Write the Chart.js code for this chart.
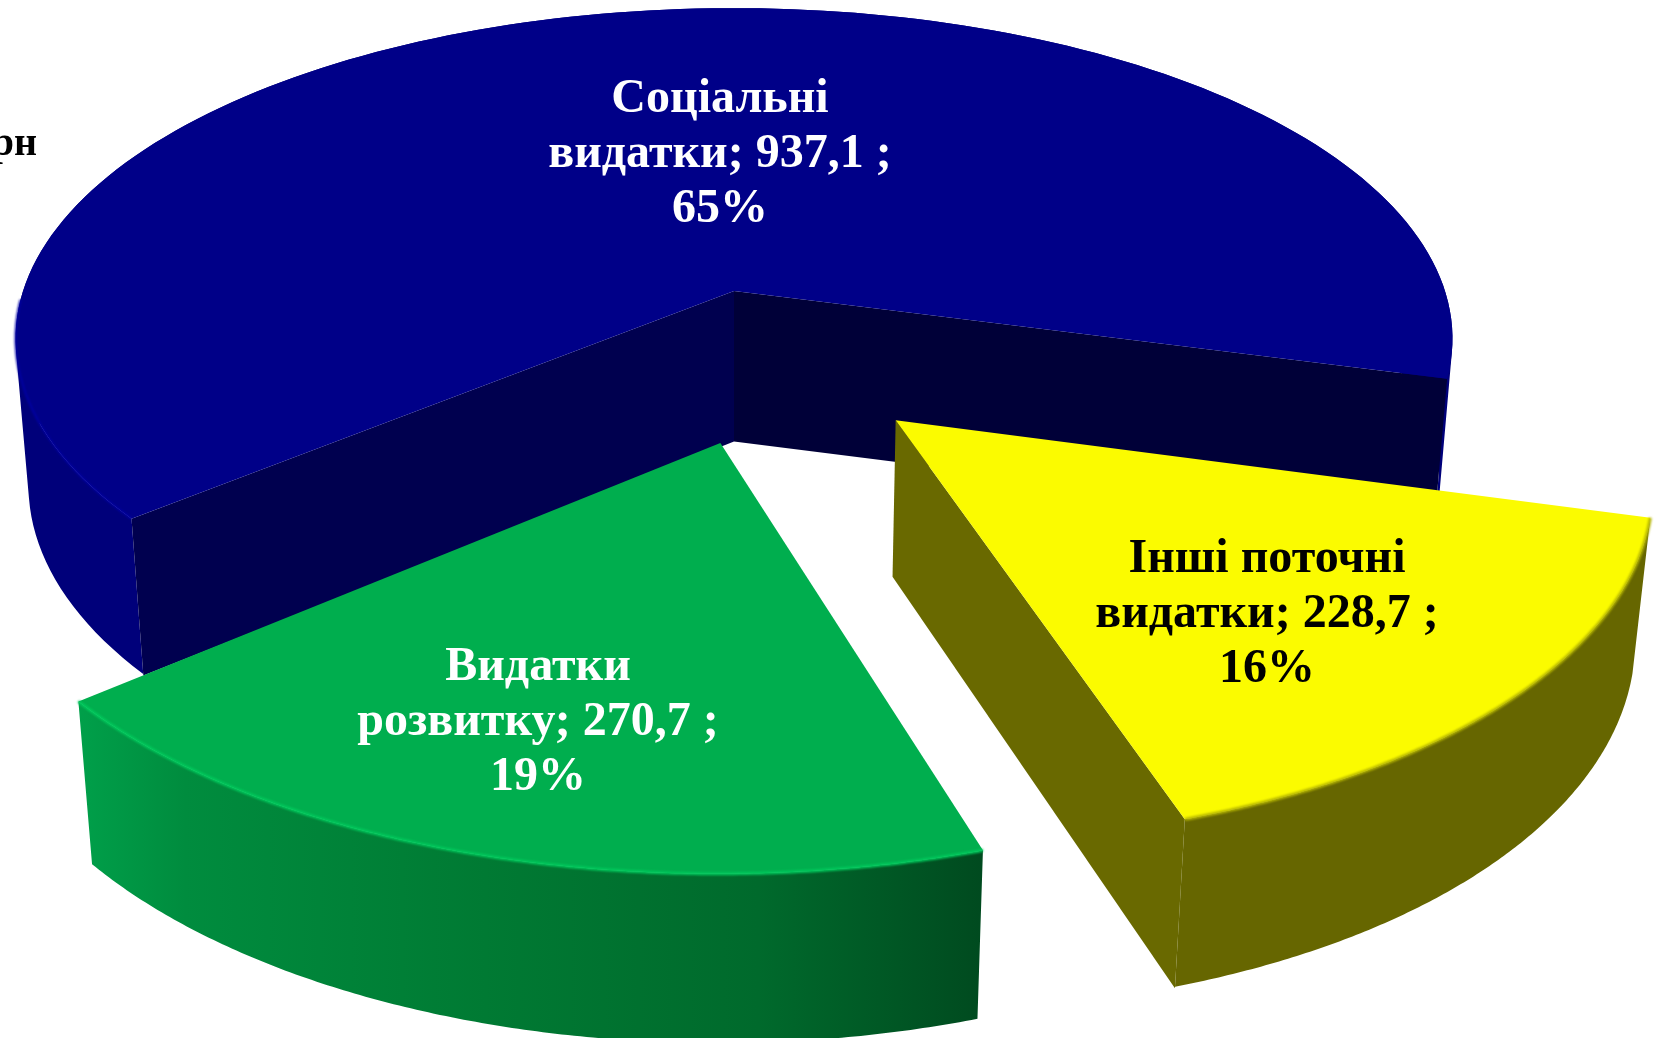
<!DOCTYPE html>
<html>
<head>
<meta charset="utf-8">
<script src="https://cdn.jsdelivr.net/npm/chart.js@4"></script>
<style>
html, body { margin: 0; padding: 0; background: #fff; overflow: hidden; }
canvas { display: block; }
</style>
</head>
<body>
<canvas id="pie3d" width="1661" height="1038"></canvas>
<script>
// Chart data (clockwise from the front-left edge of the big slice)
const categories = ['Соціальні видатки', 'Інші поточні видатки', 'Видатки розвитку'];
const amounts = [937.1, 228.7, 270.7];
const percents = ['65%', '16%', '19%'];
const labelLines = [
    ['Соціальні', 'видатки; 937,1 ;', '65%'],
    ['Інші поточні', 'видатки; 228,7 ;', '16%'],
    ['Видатки', 'розвитку; 270,7 ;', '19%']
];
const unitText = 'млн грн';

const topColors = ['#000088', '#fbfb00', '#00ae4e'];
const textColors = ['#ffffff', '#000000', '#ffffff'];

// Perspective of the disc, fitted to the reference
const view = { cx: 734, cy: 291, a: 711, b: 323.6, depth: 148, p: 0.144, q: 0.018 };

// Per-slice look: explode offset in disc units, label anchor in px
const sliceStyle = [
    { dx: 0, dy: 0, r: 1, labelX: 720, labelY: 100, cutStart: '#00004f', cutEnd: '#000038', edge: '#0000a4', bevel: 2, bevelSpan: 0.16 },
    { dx: 0.215, dy: 0.378, r: 0.99, labelX: 1267, labelY: 560, cutEnd: '#696900', edge: '#b4b400', bevel: 3, bevelSpan: 1 },
    { dx: -0.018, dy: 0.44, r: 0.99, labelX: 538, labelY: 668, edge: '#00c95c', bevel: 3, bevelSpan: 1 }
];
const drawOrder = [0, 2, 1];

function project(X, Y, z) {
    const w = 1 - view.p * Y + view.q * z;
    return [view.cx + view.a * X / w, view.cy + (view.b * Y + view.depth * z) / w];
}

function arcPoints(st, start, end, z) {
    const pts = [];
    const steps = 160;
    for (let i = 0; i <= steps; i++) {
        const t = start + (end - start) * i / steps;
        pts.push(project(st.dx + st.r * Math.cos(t), st.dy + st.r * Math.sin(t), z));
    }
    return pts;
}

function fillPoly(ctx, pts, fill) {
    ctx.beginPath();
    pts.forEach((p, i) => i ? ctx.lineTo(p[0], p[1]) : ctx.moveTo(p[0], p[1]));
    ctx.closePath();
    ctx.fillStyle = fill;
    ctx.fill();
}

function signedArea(q) {
    let s = 0;
    q.forEach((p, i) => {
        const n = q[(i + 1) % q.length];
        s += p[0] * n[1] - n[0] * p[1];
    });
    return s;
}

// the side wall is the sweep of every rim segment, one path so no seams show.
// quads are all wound the same way, otherwise nonzero fill cancels them out
function fillWall(ctx, topArc, botArc, fill) {
    ctx.beginPath();
    for (let k = 0; k < topArc.length - 1; k++) {
        let quad = [topArc[k], topArc[k + 1], botArc[k + 1], botArc[k]];
        if (signedArea(quad) < 0) quad = quad.reverse();
        quad.forEach((p, i) => i ? ctx.lineTo(p[0], p[1]) : ctx.moveTo(p[0], p[1]));
        ctx.closePath();
    }
    ctx.fillStyle = fill;
    ctx.fill('nonzero');
}

function cutFace(ctx, st, angle, fill) {
    const rimX = st.dx + st.r * Math.cos(angle);
    const rimY = st.dy + st.r * Math.sin(angle);
    fillPoly(ctx, [
        project(st.dx, st.dy, 0), project(rimX, rimY, 0),
        project(rimX, rimY, 1.01), project(st.dx, st.dy, 1.035)
    ], fill);
}

function wallFill(ctx, index) {
    if (index === 0) return '#00007a';
    if (index === 1) return '#666600';
    const g = ctx.createLinearGradient(76, 0, 985, 0);
    g.addColorStop(0, '#00a04a');
    g.addColorStop(0.12, '#008c3e');
    g.addColorStop(0.45, '#007a33');
    g.addColorStop(0.75, '#006a2c');
    g.addColorStop(1, '#004a1f');
    return g;
}

const pie3dPlugin = {
    id: 'pie3d',
    // skip the flat arcs and draw the same arc elements in perspective
    beforeDatasetDraw(chart, args) {
        const ctx = chart.ctx;
        const arcs = args.meta.data;
        ctx.save();
        drawOrder.forEach(i => {
            const st = sliceStyle[i];
            const start = arcs[i].startAngle;
            const end = arcs[i].endAngle;
            const topArc = arcPoints(st, start, end, 0);
            const botArc = arcPoints(st, start, end, 1);

            fillWall(ctx, topArc, botArc, wallFill(ctx, i));
            if (st.cutStart) cutFace(ctx, st, start, st.cutStart);
            if (st.cutEnd) cutFace(ctx, st, end, st.cutEnd);
            fillPoly(ctx, [project(st.dx, st.dy, 0)].concat(topArc), topColors[i]);

            // soft bevel along the visible part of the rim
            const lastBevel = Math.round((topArc.length - 1) * st.bevelSpan);
            ctx.beginPath();
            topArc.slice(0, lastBevel + 1).forEach((p, k) => k ? ctx.lineTo(p[0], p[1]) : ctx.moveTo(p[0], p[1]));
            ctx.strokeStyle = st.edge;
            ctx.lineWidth = st.bevel;
            ctx.filter = 'blur(1px)';
            ctx.stroke();
            ctx.filter = 'none';
        });
        ctx.restore();
        return false;
    },
    afterDraw(chart) {
        const ctx = chart.ctx;
        ctx.save();
        ctx.font = 'bold 48px "Liberation Serif"';
        ctx.textAlign = 'center';
        ctx.textBaseline = 'middle';
        labelLines.forEach((lines, i) => {
            ctx.fillStyle = textColors[i];
            lines.forEach((line, k) => {
                ctx.fillText(line, sliceStyle[i].labelX, sliceStyle[i].labelY + k * 55);
            });
        });
        // axis unit caption, cut off by the left edge as in the source
        ctx.font = 'bold 40px "Liberation Serif"';
        ctx.textAlign = 'right';
        ctx.textBaseline = 'alphabetic';
        ctx.fillStyle = '#000000';
        ctx.fillText(unitText, 37, 155);
        ctx.restore();
    }
};

new Chart(document.getElementById('pie3d').getContext('2d'), {
    type: 'pie',
    data: {
        labels: categories,
        datasets: [{ data: amounts, backgroundColor: topColors, borderWidth: 0 }]
    },
    options: {
        responsive: false,
        animation: false,
        rotation: 230.3,
        plugins: {
            legend: { display: false },
            tooltip: { enabled: false }
        }
    },
    plugins: [pie3dPlugin]
});
</script>
</body>
</html>
